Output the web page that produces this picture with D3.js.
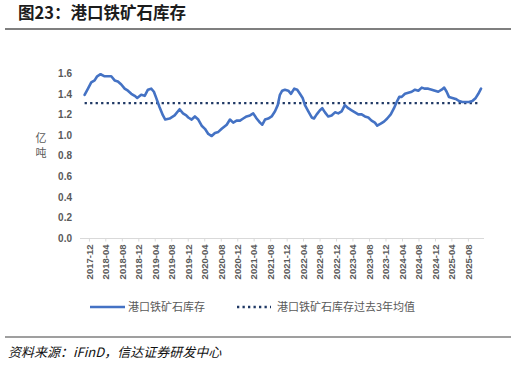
<!DOCTYPE html>
<html><head><meta charset="utf-8">
<script src="https://cdn.jsdelivr.net/npm/d3@7"></script>
<style>body{margin:0;background:#fff}svg{display:block}</style>
</head><body>
<script>
const title = "图23：港口铁矿石库存";
const source = "资料来源：iFinD，信达证券研发中心";
const unitLabel = ["亿", "吨"];
const seriesNames = ["港口铁矿石库存", "港口铁矿石库存过去3年均值"];
const yTicks = [0.0, 0.2, 0.4, 0.6, 0.8, 1.0, 1.2, 1.4, 1.6];
const xTickLabels = ["2017-12","2018-04","2018-08","2018-12","2019-04","2019-08","2019-12","2020-04","2020-08","2020-12","2021-04","2021-08","2021-12","2022-04","2022-08","2022-12","2023-04","2023-08","2023-12","2024-04","2024-08","2024-12","2025-04","2025-08"];
const dates = ["2017-10-30","2017-11-24","2017-12-18","2018-01-12","2018-01-31","2018-02-25","2018-03-27","2018-04-20","2018-05-15","2018-06-09","2018-07-03","2018-07-28","2018-08-22","2018-09-15","2018-10-10","2018-11-04","2018-11-23","2018-12-22","2019-01-17","2019-02-10","2019-03-06","2019-03-26","2019-04-12","2019-05-07","2019-06-01","2019-06-18","2019-07-20","2019-08-26","2019-10-02","2019-10-27","2019-11-20","2019-12-05","2019-12-30","2020-01-23","2020-02-17","2020-03-13","2020-04-06","2020-05-01","2020-05-26","2020-06-19","2020-07-14","2020-08-08","2020-09-14","2020-10-08","2020-11-01","2020-11-26","2020-12-21","2021-01-14","2021-02-08","2021-03-05","2021-03-29","2021-04-23","2021-05-18","2021-06-04","2021-06-24","2021-07-18","2021-08-12","2021-09-06","2021-09-26","2021-10-12","2021-10-29","2021-11-18","2021-12-13","2022-01-02","2022-01-26","2022-02-17","2022-03-09","2022-03-29","2022-04-15","2022-05-10","2022-06-04","2022-06-21","2022-07-11","2022-08-04","2022-08-21","2022-09-10","2022-10-04","2022-10-29","2022-11-23","2022-12-17","2023-01-11","2023-02-04","2023-03-01","2023-03-26","2023-04-20","2023-05-14","2023-06-08","2023-07-02","2023-07-27","2023-08-20","2023-09-14","2023-10-01","2023-10-27","2023-11-20","2023-12-14","2024-01-09","2024-02-02","2024-02-22","2024-03-12","2024-03-30","2024-04-23","2024-05-18","2024-06-12","2024-07-06","2024-07-31","2024-08-25","2024-09-18","2024-10-12","2024-11-07","2024-12-01","2024-12-25","2025-01-19","2025-02-07","2025-02-25","2025-03-14","2025-04-08","2025-05-03","2025-05-27","2025-06-21","2025-07-16","2025-08-09","2025-09-03","2025-09-28","2025-10-17","2025-11-06"];
const inventory = [1.39,1.45,1.51,1.53,1.57,1.59,1.57,1.57,1.57,1.53,1.52,1.49,1.45,1.43,1.40,1.38,1.36,1.39,1.38,1.44,1.45,1.42,1.36,1.27,1.19,1.15,1.16,1.19,1.25,1.21,1.19,1.17,1.15,1.18,1.15,1.09,1.06,1.01,0.99,1.02,1.03,1.06,1.10,1.15,1.12,1.14,1.14,1.16,1.18,1.19,1.21,1.16,1.12,1.10,1.15,1.16,1.18,1.23,1.29,1.39,1.43,1.44,1.43,1.40,1.45,1.44,1.40,1.36,1.29,1.23,1.17,1.16,1.20,1.24,1.26,1.22,1.18,1.19,1.22,1.21,1.23,1.29,1.26,1.24,1.22,1.20,1.20,1.18,1.17,1.14,1.12,1.09,1.11,1.13,1.16,1.20,1.26,1.32,1.37,1.37,1.40,1.41,1.42,1.44,1.43,1.46,1.45,1.45,1.44,1.43,1.42,1.44,1.46,1.42,1.37,1.36,1.35,1.33,1.32,1.32,1.32,1.33,1.36,1.40,1.45];
const avgDates = ["2017-10-30","2025-10-15"];
const avgValues = [1.31, 1.31];

const W = 516, H = 367;
const parse = d3.timeParse("%Y-%m-%d");
const svg = d3.select("body").append("svg").attr("width", W).attr("height", H);
const fontCJK = "'Noto Sans CJK SC','Noto Sans',sans-serif";
const fontNum = "'Liberation Sans',Arial,sans-serif";

// title
svg.append("text").attr("x", 18).attr("y", 19).text(title)
  .attr("font-family", fontCJK).attr("font-weight", "bold").attr("font-size", 16.5).attr("fill", "#1c1c1c");
svg.append("line").attr("x1", 5).attr("x2", 511).attr("y1", 29).attr("y2", 29)
  .attr("stroke", "#7f7f7f").attr("stroke-width", 2);

const x = d3.scaleTime().domain([parse("2017-09-26"), parse("2025-11-28")]).range([80, 484]);
const y = d3.scaleLinear().domain([0, 1.8]).range([238, 238 - 1.8 * 103]);

// y axis labels
const yAxis = d3.axisLeft(y).tickValues(yTicks).tickFormat(d3.format(".1f")).tickSize(0).tickPadding(0);
const gy = svg.append("g").attr("transform", "translate(72,0)").call(yAxis);
gy.select(".domain").remove();
gy.selectAll("text").attr("font-family", fontNum).attr("font-weight", "bold").attr("font-size", 10).attr("fill", "#595959");

// unit label
unitLabel.forEach((c, i) => {
  svg.append("text").attr("x", 41).attr("y", 142 + i * 15).attr("text-anchor", "middle").text(c)
    .attr("font-family", fontCJK).attr("font-size", 11).attr("fill", "#595959");
});

// x axis
const xTickDates = xTickLabels.map(s => parse(s + "-01"));
const xAxis = d3.axisBottom(x).tickValues(xTickDates).tickFormat(d3.timeFormat("%Y-%m")).tickSize(3).tickPadding(4);
const gx = svg.append("g").attr("transform", "translate(0,238.5)").call(xAxis);
gx.select(".domain").attr("stroke", "#d9d9d9").attr("d", "M80,0H484");
gx.selectAll(".tick line").attr("stroke", "#d9d9d9");
gx.selectAll("text").attr("font-family", fontNum).attr("font-weight", "bold").attr("font-size", 9.5).attr("fill", "#595959")
  .attr("transform", "rotate(-90)").attr("text-anchor", "end").attr("dy", "0.35em").attr("x", -6).attr("y", 0);

// average dotted line
const avgData = avgDates.map((d, i) => ({ d: parse(d), v: avgValues[i] }));
const line = d3.line().x(p => x(p.d)).y(p => y(p.v));
svg.append("path").datum(avgData).attr("d", line).attr("fill", "none")
  .attr("stroke", "#1f3864").attr("stroke-width", 2.3).attr("stroke-dasharray", "2.3,3.2");

// inventory line
const invData = dates.map((d, i) => ({ d: parse(d), v: inventory[i] }));
svg.append("path").datum(invData).attr("d", line).attr("fill", "none")
  .attr("stroke", "#4472c4").attr("stroke-width", 2.6).attr("stroke-linejoin", "round").attr("stroke-linecap", "round");

// legend
const ly = 307;
svg.append("line").attr("x1", 90).attr("x2", 125).attr("y1", ly).attr("y2", ly).attr("stroke", "#4472c4").attr("stroke-width", 2.6);
svg.append("text").attr("x", 128).attr("y", ly + 4).text(seriesNames[0])
  .attr("font-family", fontCJK).attr("font-size", 11).attr("fill", "#595959");
svg.append("line").attr("x1", 237).attr("x2", 271).attr("y1", ly).attr("y2", ly).attr("stroke", "#1f3864")
  .attr("stroke-width", 2.3).attr("stroke-dasharray", "2.3,3.2");
svg.append("text").attr("x", 277).attr("y", ly + 4).text(seriesNames[1])
  .attr("font-family", fontCJK).attr("font-size", 11).attr("fill", "#595959");

// bottom rule & source
svg.append("line").attr("x1", 5).attr("x2", 511).attr("y1", 337).attr("y2", 337)
  .attr("stroke", "#7f7f7f").attr("stroke-width", 1.5);
svg.append("text").attr("x", 8).attr("y", 357).text(source)
  .attr("font-family", fontCJK).attr("font-style", "italic").attr("font-size", 13).attr("fill", "#111");
</script>
</body></html>
